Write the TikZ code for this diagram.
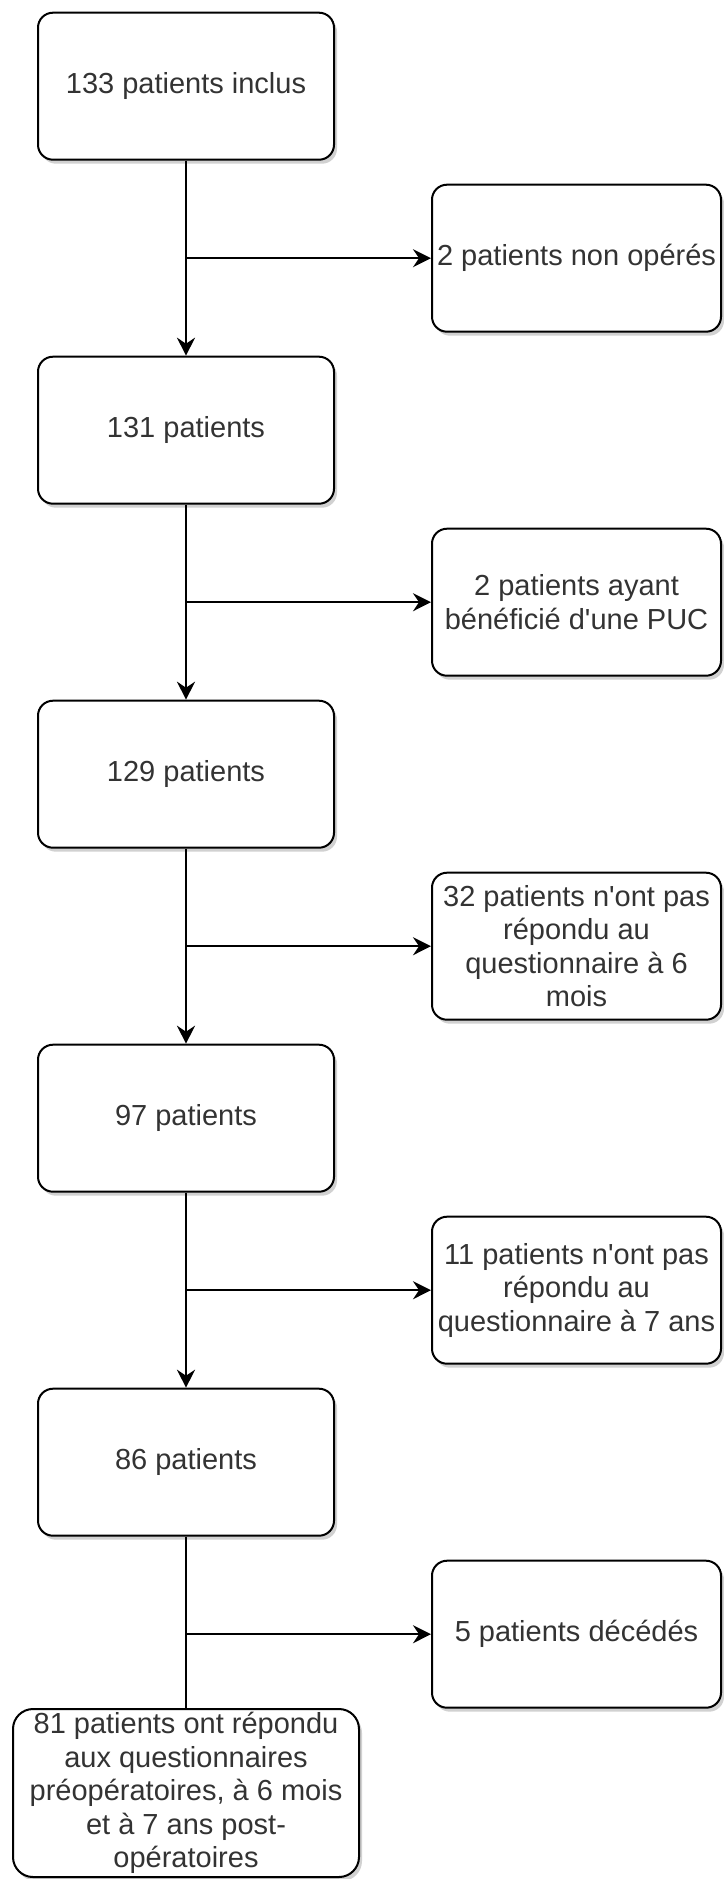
\documentclass[tikz,border=0pt]{standalone}
\usepackage{fontspec}
\setmainfont{Liberation Sans}
\usetikzlibrary{arrows.meta,shadows}
\definecolor{txt}{HTML}{333333}
\newcommand{\apos}{\textquotesingle}
\tikzset{
  box/.style={draw=black, line width=2pt, fill=white, rounded corners=15pt,
    inner sep=0pt, align=center, text=txt,
    font=\fontsize{29}{33.5}\selectfont,
    drop shadow={shadow xshift=3pt, shadow yshift=-4pt, opacity=0.18, fill=black}},
  mainbox/.style={box, minimum width=296pt, minimum height=147pt},
  sidebox/.style={box, minimum width=289pt, minimum height=147pt},
  lastbox/.style={box, minimum width=346pt, minimum height=168pt, rounded corners=20pt},
  arr/.style={draw=black, line width=2pt, -{Stealth[length=18pt,width=18pt,inset=6pt]}},
  conn/.style={draw=black, line width=2pt}
}
\begin{document}
\begin{tikzpicture}[x=1pt,y=-1pt]
\useasboundingbox[fill=white] (0,0) rectangle (723,1879);

\node[mainbox] (b1) at (186,86.2) {133 patients inclus};
\node[mainbox] (b2) at (186,430.2) {131 patients};
\node[mainbox] (b3) at (186,774.2) {129 patients};
\node[mainbox] (b4) at (186,1118.2) {97 patients};
\node[mainbox] (b5) at (186,1462.2) {86 patients};
\node[lastbox] (b6) at (186,1793) {81 patients ont répondu\\aux questionnaires\\préopératoires, à 6 mois\\et à 7 ans post-\\opératoires};

\node[sidebox] (r1) at (576.5,258.2) {2 patients non opérés};
\node[sidebox] (r2) at (576.5,602.2) {2 patients ayant\\bénéficié d\apos une PUC};
\node[sidebox] (r3) at (576.5,946.2) {32 patients n\apos ont pas\\répondu au\\questionnaire à 6\\mois};
\node[sidebox] (r4) at (576.5,1290.2) {11 patients n\apos ont pas\\répondu au\\questionnaire à 7 ans};
\node[sidebox] (r5) at (576.5,1634.2) {5 patients décédés};

\draw[arr] (b1.south) -- (b2.north);
\draw[arr] (b2.south) -- (b3.north);
\draw[arr] (b3.south) -- (b4.north);
\draw[arr] (b4.south) -- (b5.north);
\draw[conn] (b5.south) -- (b6.north);

\coordinate (j1) at (b1.south |- r1.west);
\coordinate (j2) at (b2.south |- r2.west);
\coordinate (j3) at (b3.south |- r3.west);
\coordinate (j4) at (b4.south |- r4.west);
\coordinate (j5) at (b5.south |- r5.west);
\draw[arr] (j1) -- (r1.west);
\draw[arr] (j2) -- (r2.west);
\draw[arr] (j3) -- (r3.west);
\draw[arr] (j4) -- (r4.west);
\draw[arr] (j5) -- (r5.west);
\end{tikzpicture}
\end{document}
